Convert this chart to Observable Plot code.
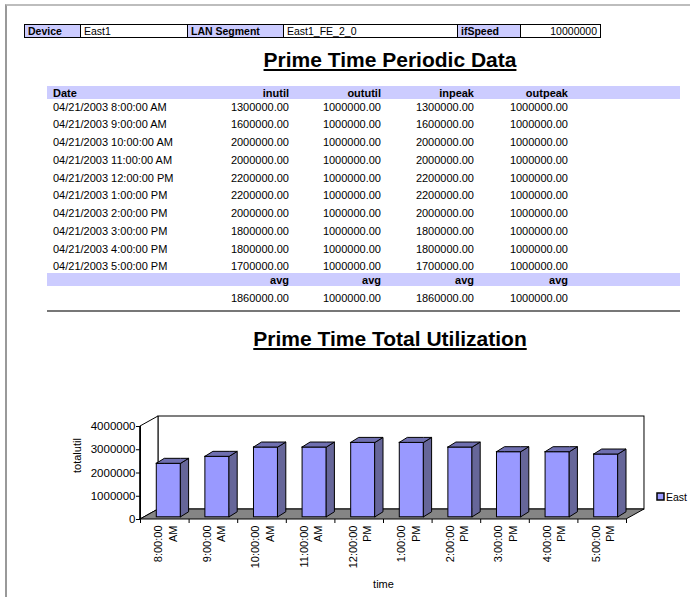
<!DOCTYPE html>
<html><head><meta charset="utf-8">
<script src="https://cdn.jsdelivr.net/npm/d3@7"></script>
<script src="https://cdn.jsdelivr.net/npm/@observablehq/plot@0.6"></script>
<style>
body{margin:0;background:#fff;font-family:"Liberation Sans",Arial,sans-serif;color:#000;}
#page{position:relative;width:690px;height:597px;overflow:hidden;}
#frame{position:absolute;left:5px;top:4px;width:720px;height:620px;border-left:2px solid #999;border-top:2px solid #bdbdbd;}
#hdr{position:absolute;left:24px;top:24px;border-collapse:collapse;font-size:10.5px;}
#hdr td{border:1px solid #000;height:12px;padding:0 3px;line-height:12px;white-space:nowrap;}
#hdr td.k{background:#ccccff;font-weight:bold;}
.title{position:absolute;left:140px;width:500px;text-align:center;font-weight:bold;font-size:21px;text-decoration:underline;line-height:22px;}
.band{position:absolute;left:47px;width:633px;height:13px;background:#ccccff;}
.row{position:absolute;left:0;width:690px;font-size:11px;}
.row span{position:absolute;white-space:nowrap;}
.b{font-weight:bold;}
#sep{position:absolute;left:47px;width:633px;top:310px;height:0;border-top:2px solid #777;}
#chart{position:absolute;left:0;top:400px;}
#legend{position:absolute;left:657px;top:480px;margin:0 !important;}
#legend > span{margin:0 !important;}
#legend svg{margin-right:2px !important;}
#legend svg rect{stroke:#000;stroke-width:1.5px;}
</style></head>
<body><div id="page"><div id="frame"></div></div>
<script>
// ---- data ----
const headerKeys = ["Device", "LAN Segment", "ifSpeed"];
const headerVals = ["East1", "East1_FE_2_0", "10000000"];
const columns = ["Date", "inutil", "oututil", "inpeak", "outpeak"];
const dates = ["04/21/2003 8:00:00 AM","04/21/2003 9:00:00 AM","04/21/2003 10:00:00 AM","04/21/2003 11:00:00 AM","04/21/2003 12:00:00 PM","04/21/2003 1:00:00 PM","04/21/2003 2:00:00 PM","04/21/2003 3:00:00 PM","04/21/2003 4:00:00 PM","04/21/2003 5:00:00 PM"];
const inutil  = [1300000,1600000,2000000,2000000,2200000,2200000,2000000,1800000,1800000,1700000];
const oututil = [1000000,1000000,1000000,1000000,1000000,1000000,1000000,1000000,1000000,1000000];
const inpeak  = [1300000,1600000,2000000,2000000,2200000,2200000,2000000,1800000,1800000,1700000];
const outpeak = [1000000,1000000,1000000,1000000,1000000,1000000,1000000,1000000,1000000,1000000];
const averages = [1860000, 1000000, 1860000, 1000000];
const times = ["8:00:00\nAM","9:00:00\nAM","10:00:00\nAM","11:00:00\nAM","12:00:00\nPM","1:00:00\nPM","2:00:00\nPM","3:00:00\nPM","4:00:00\nPM","5:00:00\nPM"];
const totalutil = [2300000,2600000,3000000,3000000,3200000,3200000,3000000,2800000,2800000,2700000];
const yTicks = [0,1000000,2000000,3000000,4000000];
const seriesName = "East";
const title1 = "Prime Time Periodic Data";
const title2 = "Prime Time Total Utilization";

const page = document.getElementById("page");
const fmt = d3.format(".2f");

// ---- header table ----
const widths = [[56,107],[96,174],[63,80]];
let html = '<table id="hdr"><tr>';
headerKeys.forEach((k,i)=>{
  html += `<td class="k" style="width:${widths[i][0]-7}px">${k}</td>`;
  html += `<td style="width:${widths[i][1]-7}px;${i===2?'text-align:right':''}">${headerVals[i]}</td>`;
});
html += '</tr></table>';
html += `<div class="title" style="top:49px">${title1}</div>`;
html += `<div class="band" style="top:86px"></div>`;
const colRight = [null, 289, 381, 474, 568];
function rowHtml(top, cells, bold){
  let s = `<div class="row${bold?' b':''}" style="top:${top}px;height:14px;line-height:14px">`;
  cells.forEach((c,j)=>{
    if (c==null) return;
    if (j===0) s += `<span style="left:53px">${c}</span>`;
    else s += `<span style="right:${690-colRight[j]}px">${c}</span>`;
  });
  return s + '</div>';
}
html += rowHtml(85.5, columns, true);
dates.forEach((d,i)=>{
  html += rowHtml(99.5 + i*17.75, [d, fmt(inutil[i]), fmt(oututil[i]), fmt(inpeak[i]), fmt(outpeak[i])], false);
});
html += `<div class="band" style="top:273px"></div>`;
html += rowHtml(272.5, [null,"avg","avg","avg","avg"], true);
html += rowHtml(291, [null, ...averages.map(fmt)], false);
html += `<div id="sep"></div>`;
html += `<div class="title" style="top:328px">${title2}</div>`;
page.insertAdjacentHTML("beforeend", html);

// ---- 3D column chart ----
const FDX = 0.37, FDY = 430000;      // floor / wall depth
const OX = 0.085, OY = 95000;        // bar front-plane offset
const BDX = 0.165, BDY = 215000;     // bar depth
const bars = totalutil.map((v,i)=>({i, v, x1: i+0.25+OX, x2: i+0.75+OX, y0: OY, y1: v+OY}));
const sides = bars.flatMap(b=>[
  {id:b.i, x:b.x2, lo:b.y0, hi:b.y1},
  {id:b.i, x:b.x2+BDX, lo:b.y0+BDY, hi:b.y1+BDY}]);
const tops = bars.flatMap(b=>[
  {id:b.i, x:b.x1, lo:b.y1, hi:b.y1},
  {id:b.i, x:b.x1+BDX, lo:b.y1, hi:b.y1+BDY},
  {id:b.i, x:b.x2, lo:b.y1, hi:b.y1+BDY},
  {id:b.i, x:b.x2+BDX, lo:b.y1+BDY, hi:b.y1+BDY}]);
const n = totalutil.length, ymax = yTicks[yTicks.length-1];
const floor = [{x:0,lo:0,hi:0},{x:FDX,lo:0,hi:FDY},{x:n,lo:0,hi:FDY},{x:n+FDX,lo:FDY,hi:FDY}];
const leftWall = [{x:0,lo:0,hi:ymax},{x:FDX,lo:FDY,hi:ymax+FDY}];

const chart = Plot.plot({
  width: 690, height: 197,
  marginLeft: 140, marginRight: 64, marginTop: 26, marginBottom: 78,
  x: {domain: [0, n], axis: null},
  y: {domain: [0, ymax], axis: null},
  style: {fontFamily: "'Liberation Sans', Arial, sans-serif", fontSize: "11px", color: "#000", background: "transparent", overflow: "visible"},
  marks: [
    Plot.rect([{}], {x1: FDX, x2: n+FDX, y1: FDY, y2: ymax+FDY, fill: "white", stroke: "black", strokeWidth: 1}),
    Plot.areaY(leftWall, {x: "x", y1: "lo", y2: "hi", fill: "white", stroke: "black", strokeWidth: 1}),
    Plot.areaY(floor, {x: "x", y1: "lo", y2: "hi", fill: "#858585", stroke: "black", strokeWidth: 1}),
    Plot.rect(bars, {x1: "x1", x2: "x2", y1: "y0", y2: "y1", fill: "#9999ff", stroke: "black", strokeWidth: 1}),
    Plot.areaY(sides, {x: "x", y1: "lo", y2: "hi", z: "id", fill: "#666699", stroke: "black", strokeWidth: 1}),
    Plot.areaY(tops, {x: "x", y1: "lo", y2: "hi", z: "id", fill: "#6f6fb0", stroke: "black", strokeWidth: 1}),
    Plot.ruleX([0], {y1: 0, y2: ymax, stroke: "black"}),
    Plot.axisY({ticks: yTicks, tickFormat: d3.format("d"), tickSize: 4, tickPadding: 1, fontSize: 11.5, label: null, stroke: "black"}),
    Plot.axisX({ticks: d3.range(n+1), tickFormat: () => "", tickSize: 4, label: null, stroke: "black"}),
    Plot.text(times, {x: (d,i) => i+0.5, y: 0, text: d => d, rotate: -90, textAnchor: "end", lineAnchor: "middle", lineHeight: 1.3, dy: 6, fontSize: 11}),
    Plot.text(["time"], {frameAnchor: "bottom", dy: 68, fontSize: 11}),
    Plot.text(["totalutil"], {frameAnchor: "left", rotate: -90, dx: -63, fontSize: 11})
  ]
});
chart.id = "chart";
page.appendChild(chart);

const legend = Plot.legend({color: {type: "categorical", domain: [seriesName], range: ["#9999ff"]}, swatchSize: 7, style: {fontFamily: "'Liberation Sans', Arial, sans-serif", fontSize: "10.5px", color: "#000"}});
legend.id = "legend";
page.appendChild(legend);
</script></body></html>
